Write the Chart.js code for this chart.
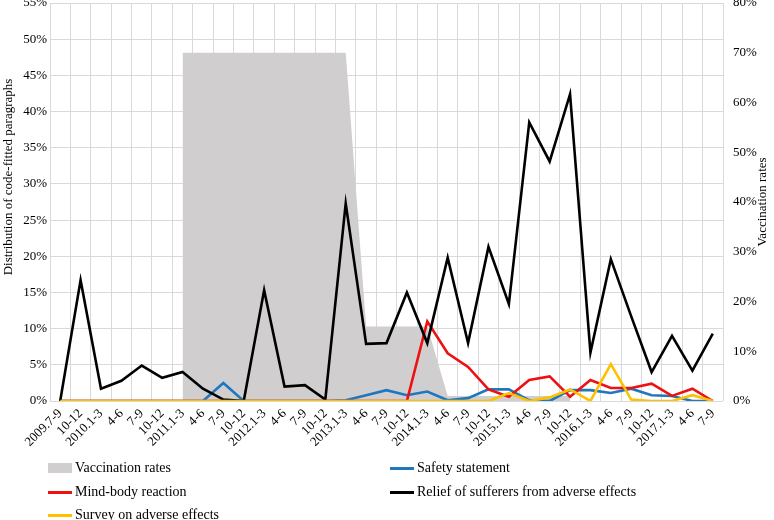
<!DOCTYPE html>
<html>
<head>
<meta charset="utf-8">
<script src="https://cdn.jsdelivr.net/npm/chart.js@4/dist/chart.umd.min.js"></script>
<style>
  body { margin: 0; background: #fff; font-family: "Liberation Serif", "Times New Roman", serif; }
  #wrap { position: relative; width: 774px; height: 520px; }
  #box { position: absolute; left: 0; top: 0; width: 774px; height: 460px; }
  #legend { position: absolute; left: 0; top: 455px; width: 774px; height: 65px; font-size: 14px; color: #000; }
  .item { position: absolute; height: 18px; line-height: 18px; white-space: nowrap; }
  .sw { position: absolute; left: 0; }
  .item span.txt { position: absolute; left: 27px; top: 0; }
</style>
</head>
<body>
<div id="wrap">
  <div id="box"><canvas id="chartCanvas"></canvas></div>
  <div id="legend"></div>
</div>
<script>
/* ==========================================
   DATA
   ========================================== */

const quarters = [
  "2009.7-9", "10-12",
  "2010.1-3", "4-6", "7-9", "10-12",
  "2011.1-3", "4-6", "7-9", "10-12",
  "2012.1-3", "4-6", "7-9", "10-12",
  "2013.1-3", "4-6", "7-9", "10-12",
  "2014.1-3", "4-6", "7-9", "10-12",
  "2015.1-3", "4-6", "7-9", "10-12",
  "2016.1-3", "4-6", "7-9", "10-12",
  "2017.1-3", "4-6", "7-9"
];

// right axis (%)
const vaccinationRates = [
  null, null, null, null, null, null,
  70, 70, 70, 70, 70, 70, 70, 70, 70,
  15, 15, 15, 15,
  1, 1, 1, 1, 1, 1, 1,
  null, null, null, null, null, null, null
];

// left axis (%)
const safetyStatement = [
  0, 0, 0, 0, 0, 0, 0, 0, 2.5, 0, 0, 0, 0, 0, 0.1, 0.8, 1.5,
  0.8, 1.3, 0.1, 0.4, 1.6, 1.6, 0.1, 0, 1.5, 1.5, 1.1, 1.7, 0.8, 0.7, 0, 0
];

const mindBody = [
  0, 0, 0, 0, 0, 0, 0, 0, 0, 0, 0, 0, 0, 0, 0, 0, 0, 0,
  11.0, 6.6, 4.7, 1.6, 0.6, 2.9, 3.4, 0.6, 2.9, 1.8, 1.8, 2.4, 0.7, 1.7, 0
];

const reliefOfSufferers = [
  0, 16.7, 1.7, 2.8, 4.9, 3.2, 4.0, 1.7, 0.2, 0, 15.3, 2.0, 2.2, 0.2, 27.3,
  7.9, 8.0, 15.0, 8.0, 19.8, 8.0, 21.3, 13.4, 38.5, 33.1, 42.4,
  6.7, 19.6, 11.7, 4.0, 9.0, 4.2, 9.3
];

const surveyAdverse = [
  0, 0, 0, 0, 0, 0, 0, 0, 0, 0, 0, 0, 0, 0, 0, 0, 0, 0, 0, 0, 0, 0,
  1.1, 0, 0.5, 1.6, 0, 5.1, 0.2, 0, 0, 0.8, 0
];

const leftTicks = [0, 5, 10, 15, 20, 25, 30, 35, 40, 45, 50, 55];
const rightTicks = [0, 10, 20, 30, 40, 50, 60, 70, 80];

const leftTitle = "Distribution of code-fitted paragraphs";
const rightTitle = "Vaccination rates";

/* ==========================================
   CHART
   ========================================== */

const FONT_FAMILY = "'Liberation Serif', 'Times New Roman', serif";
const FONT = { family: FONT_FAMILY, size: 13 };
const GRID = "#d9d9d9";

function lineSet(label, data, color, order) {
  return {
    type: "line", label, data, order,
    borderColor: color, backgroundColor: color,
    borderWidth: 2.6, pointRadius: 0, tension: 0, fill: false,
    yAxisID: "y"
  };
}

// both axis titles read bottom-to-top, as in the original
const axisTitles = {
  id: "axisTitles",
  afterDraw(c) {
    const { ctx, chartArea } = c;
    const mid = (chartArea.top + chartArea.bottom) / 2;
    ctx.save();
    ctx.fillStyle = "#000";
    ctx.font = "13px " + FONT_FAMILY;
    ctx.textAlign = "center";
    ctx.textBaseline = "middle";

    ctx.save();
    ctx.translate(9, mid - 25);
    ctx.rotate(-Math.PI / 2);
    ctx.fillText(leftTitle, 0, 0);
    ctx.restore();

    ctx.save();
    ctx.translate(c.width - 11, mid);
    ctx.rotate(-Math.PI / 2);
    ctx.fillText(rightTitle, 0, 0);
    ctx.restore();

    ctx.restore();
  }
};

const chart = new Chart(document.getElementById("chartCanvas"), {
  data: {
    labels: quarters,
    datasets: [
      {
        type: "line", label: "Vaccination rates", data: vaccinationRates, order: 9,
        yAxisID: "y1", fill: "origin", backgroundColor: "#d0cece",
        borderWidth: 0, borderColor: "#d0cece", pointRadius: 0, tension: 0, spanGaps: false
      },
      lineSet("Safety statement", safetyStatement, "#1f77c0", 4),
      lineSet("Mind-body reaction", mindBody, "#ee1111", 3),
      lineSet("Relief of sufferers from adverse effects", reliefOfSufferers, "#000000", 2),
      lineSet("Survey on adverse effects", surveyAdverse, "#ffc000", 1)
    ]
  },
  options: {
    responsive: true,
    maintainAspectRatio: false,
    animation: false,
    layout: { padding: 0 },
    plugins: { legend: { display: false }, tooltip: { enabled: false } },
    scales: {
      x: {
        type: "category",
        offset: true,
        grid: { offset: true, color: GRID, drawTicks: false },
        border: { display: false },
        ticks: {
          autoSkip: false, minRotation: 45, maxRotation: 45, padding: 5,
          color: "#000", font: FONT
        },
        afterFit: s => { s.height = 59; s.paddingLeft = 0; s.paddingRight = 0; }
      },
      y: {
        position: "left", min: 0, max: 55,
        grid: { color: GRID, drawTicks: false },
        border: { display: false },
        afterBuildTicks: s => { s.ticks = leftTicks.map(v => ({ value: v })); },
        ticks: { color: "#000", font: FONT, padding: 3, callback: v => v + "%" },
        afterFit: s => { s.width = 50; s.paddingTop = 3; s.paddingBottom = 0; }
      },
      y1: {
        position: "right", min: 0, max: 80,
        grid: { drawOnChartArea: false, drawTicks: false },
        border: { display: false },
        afterBuildTicks: s => { s.ticks = rightTicks.map(v => ({ value: v })); },
        ticks: { color: "#000", font: FONT, padding: 10, callback: v => v + "%" },
        afterFit: s => { s.width = 51; s.paddingTop = 3; s.paddingBottom = 0; }
      }
    }
  },
  plugins: [axisTitles]
});

/* ==========================================
   LEGEND (two columns, like the original)
   ========================================== */

const legendSlots = [
  [48, 4], [390, 4],
  [48, 28], [390, 28],
  [48, 51]
];

function buildLegend() {
  const el = document.getElementById("legend");
  chart.data.datasets.forEach((ds, i) => {
    const [x, y] = legendSlots[i];
    const item = document.createElement("div");
    item.className = "item";
    item.style.left = x + "px";
    item.style.top = y + "px";

    const sw = document.createElement("div");
    sw.className = "sw";
    if (ds.fill) {
      Object.assign(sw.style, { top: "4px", width: "24px", height: "10px", background: ds.backgroundColor });
    } else {
      Object.assign(sw.style, { top: "8px", width: "24px", height: "3px", background: ds.borderColor });
    }

    const txt = document.createElement("span");
    txt.className = "txt";
    txt.textContent = ds.label;

    item.append(sw, txt);
    el.appendChild(item);
  });
}

buildLegend();
</script>
</body>
</html>
